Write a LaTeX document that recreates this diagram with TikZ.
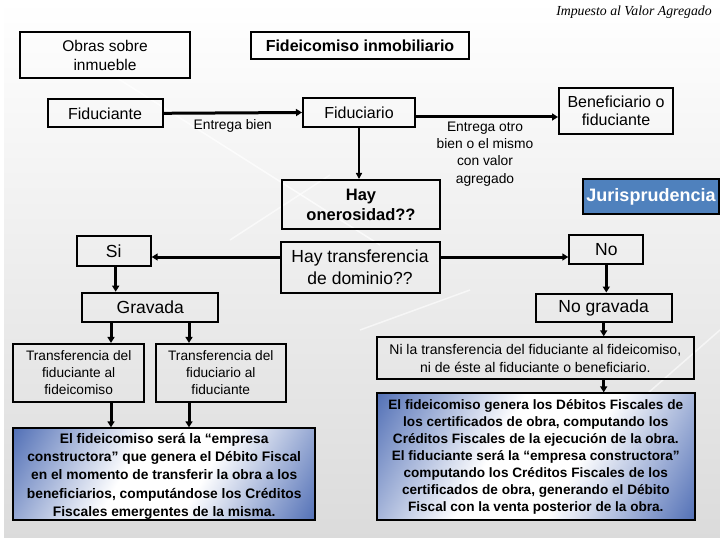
\documentclass[tikz,border=0pt]{standalone}
\usepackage{fontspec}
\setmainfont{Liberation Sans}
\newfontfamily\headfont{Liberation Serif}
\usetikzlibrary{arrows.meta,calc}
\definecolor{jblue}{RGB}{79,129,189}
\definecolor{gblue}{RGB}{58,92,172}
\pgfdeclarehorizontalshading{bwbshade}{100bp}{color(0bp)=(gblue); color(12bp)=(gblue); color(42bp)=(white); color(58bp)=(white); color(88bp)=(gblue); color(100bp)=(gblue)}
\tikzset{
  box/.style={draw, line width=2pt, inner sep=0pt, align=center},
  bluebox/.style={box, shading=bwbshade, shading angle=-30},
  arr/.style={line width=3pt, -{Triangle[length=6pt,width=7pt]}},
  thinarr/.style={line width=1.4pt, -{Triangle[length=6pt,width=6pt]}},
  lbl/.style={inner sep=0pt, align=center},
}
\newcommand{\fs}[2]{\fontsize{#1}{#2}\selectfont}
\begin{document}
\begin{tikzpicture}[x=1pt,y=-1pt]
\useasboundingbox (0,0) rectangle (720,540);
% slide background
\shade[top color=white, bottom color=black!14] (4,0) rectangle (720,537);
\draw[white, line width=1.5pt, opacity=0.7] (117,78) -- (380,245);
\draw[white, line width=1.5pt, opacity=0.6] (230,240) -- (330,175);
\draw[white, line width=1.5pt, opacity=0.6] (360,330) -- (470,290);
\draw[white, line width=1.5pt, opacity=0.6] (640,400) -- (720,330);
% header
\node[lbl, font=\headfont\itshape\fs{13.8}{16}] (head) at (634,12) {Impuesto al Valor Agregado};
% boxes
\node[box, font=\fs{15.5}{19}, minimum width=170, minimum height=46] (obras) at (105,55) {Obras sobre\\inmueble};
\node[box, font=\fs{16}{19}\bfseries, minimum width=218, minimum height=27] (fideic) at (360,45.5) {Fideicomiso inmobiliario};
\node[box, font=\fs{16}{19}, minimum width=115, minimum height=28] (fiduciante) at (105,113.3) {Fiduciante};
\node[box, font=\fs{16}{19}, minimum width=112, minimum height=29] (fiduciario) at (359,112.5) {Fiduciario};
\node[box, font=\fs{16}{18}, minimum width=114, minimum height=46] (ben) at (616,111) {Beneficiario o\\fiduciante};
\node[box, font=\fs{16.5}{20}\bfseries, minimum width=158, minimum height=49] (oner) at (361,204.5) {Hay\\onerosidad??};
\node[box, fill=jblue, text=white, font=\fs{18}{20}\bfseries, minimum width=136, minimum height=35] (juris) at (651,196.5) {Jurisprudencia};
\node[box, font=\fs{17.5}{20}, minimum width=74, minimum height=30] (si) at (113.7,251) {Si};
\node[box, font=\fs{17.5}{21.7}, minimum width=159, minimum height=51] (hay) at (360,267) {Hay transferencia\\de dominio??};
\node[box, font=\fs{17.5}{20}, minimum width=74, minimum height=29] (no) at (606.3,249.5) {No};
\node[box, font=\fs{17.5}{20}, minimum width=136, minimum height=29] (grav) at (150.3,307.2) {Gravada};
\node[box, font=\fs{17.5}{20}, minimum width=136, minimum height=28] (nograv) at (603.7,307.5) {No gravada};
\node[box, font=\fs{13.7}{17}, minimum width=130.7, minimum height=57.7] (tone) at (78.7,372.8) {Transferencia del\\fiduciante al\\fideicomiso};
\node[box, font=\fs{13.7}{17}, minimum width=130.3, minimum height=57.7] (ttwo) at (220.8,372.8) {Transferencia del\\fiduciario al\\fiduciante};
\node[bluebox, minimum width=301.7, minimum height=91.7] (bleft) at (164.2,474.2) {};
\node[lbl, font=\fs{13.8}{18.3}\bfseries] (blefttext) at (164.2,476.3) {El fideicomiso será la “empresa\\constructora” que genera el Débito Fiscal\\en el momento de transferir la obra a los\\beneficiarios, computándose los Créditos\\Fiscales emergentes de la misma.};
\node[box, font=\fs{14}{18.3}, minimum width=317.3, minimum height=42] (nila) at (535.3,358.3) {Ni la transferencia del fiduciante al fideicomiso,\\ni de éste al fiduciante o beneficiario.};
\node[bluebox, font=\fs{13.6}{17}\bfseries, minimum width=318.3, minimum height=126.7] (bright) at (535.8,456.7) {El fideicomiso genera los Débitos Fiscales de\\los certificados de obra, computando los\\Créditos Fiscales de la ejecución de la obra.\\El fiduciante será la “empresa constructora”\\computando los Créditos Fiscales de los\\certificados de obra, generando el Débito\\Fiscal con la venta posterior de la obra.};
% connectors
\draw[arr] (fiduciante.east) -- (fiduciario.west) node[lbl, midway, below=5pt, font=\fs{13.8}{16}] (lblone) {Entrega bien};
\coordinate (fo) at ([yshift=-4.5pt]fiduciario.east);
\draw[arr] (fo) -- (fo -| ben.west);
\node[lbl, font=\fs{13.8}{17.3}] (lbltwo) at (485,154) {Entrega otro\\bien o el mismo\\con valor\\agregado};
\draw[thinarr] (fiduciario.south) -- (fiduciario.south |- oner.north);
\coordinate (hs) at ([yshift=10pt]hay.west);
\draw[arr] (hs) -- (hs -| si.east);
\coordinate (he) at ([yshift=10pt]hay.east);
\draw[arr] (he) -- (he -| no.west);
\coordinate (sb) at ([xshift=2pt]si.south);
\draw[arr] (sb) -- (sb |- grav.north);
\draw[arr] (no.south) -- (no.south |- nograv.north);
\coordinate (ga) at (111,0);
\coordinate (gb) at (189,0);
\draw[arr] (ga |- grav.south) -- (ga |- tone.north);
\draw[arr] (gb |- grav.south) -- (gb |- ttwo.north);
\draw[arr] (ga |- tone.south) -- (ga |- bleft.north);
\draw[arr] (gb |- ttwo.south) -- (gb |- bleft.north);
\draw[arr] (nograv.south) -- (nograv.south |- nila.north);
\draw[arr] (nograv.south |- nila.south) -- (nograv.south |- bright.north);
\end{tikzpicture}
\end{document}
